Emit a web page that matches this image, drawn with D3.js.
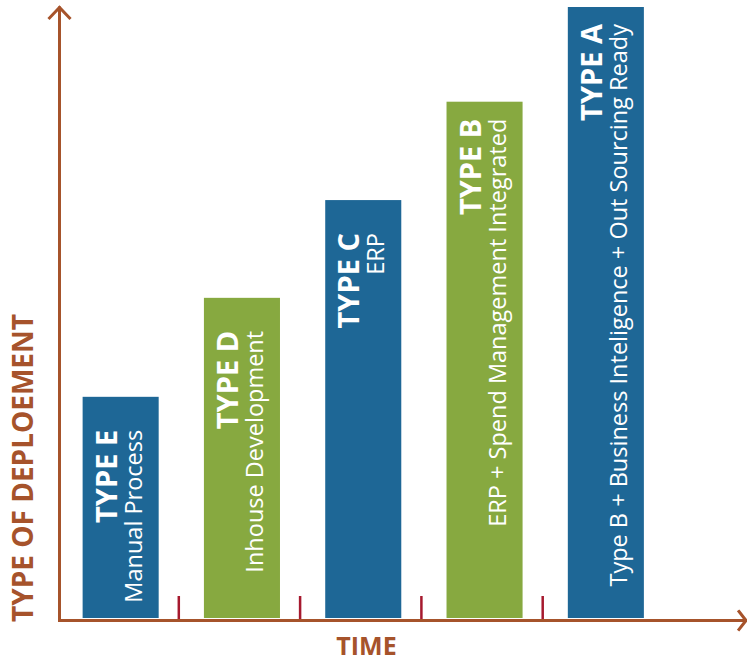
<!DOCTYPE html>
<html>
<head>
<meta charset="utf-8">
<script src="https://cdn.jsdelivr.net/npm/d3@7"></script>
<style>
  html, body { margin: 0; padding: 0; background: #ffffff; }
  svg { display: block; }
  text { font-family: "Open Sans", "Noto Sans", sans-serif; }
</style>
</head>
<body>
<svg id="chart" width="747" height="661"></svg>
<script>
// ---- data ----
const categories = ["TYPE E", "TYPE D", "TYPE C", "TYPE B", "TYPE A"];
const subtitles = [
  "Manual Process",
  "Inhouse Development",
  "ERP",
  "ERP + Spend Management Integrated",
  "Type B + Business Inteligence + Out Sourcing Ready"
];
const values = [36.2, 52.4, 68.4, 84.5, 100];
const barColors = ["#1e6796", "#87a940", "#1e6796", "#87a940", "#1e6796"];
const yAxisLabel = "TYPE OF DEPLOEMENT";
const xAxisLabel = "TIME";

// ---- layout ----
const W = 747, H = 661;
const axisX = 59.5, axisY = 620.5;
const plotTop = 7, barBase = 618;
const axisColor = "#a6532b";
const tickColor = "#a6192e";

const svg = d3.select("#chart");

const x = d3.scaleBand()
  .domain(categories)
  .range([60, 666.5])
  .paddingInner(0.373)
  .paddingOuter(0.1865);

const y = d3.scaleLinear()
  .domain([0, 100])
  .range([barBase, plotTop]);

const data = categories.map((c, i) => ({
  cat: c, sub: subtitles[i], value: values[i], color: barColors[i]
}));

// bars
svg.append("g").selectAll("rect")
  .data(data)
  .join("rect")
  .attr("x", d => x(d.cat))
  .attr("y", d => y(d.value))
  .attr("width", x.bandwidth())
  .attr("height", d => y(0) - y(d.value))
  .attr("fill", d => d.color);

// bar labels (rotated)
const labels = svg.append("g").selectAll("g")
  .data(data)
  .join("g")
  .attr("transform", d => {
    const cx = x(d.cat) + x.bandwidth() / 2;
    const off = d.sub.length > 30 ? 17 : 33;
    return `translate(${cx},${y(d.value) + off}) rotate(-90)`;
  });

labels.append("text")
  .attr("x", 0)
  .attr("y", -4)
  .attr("text-anchor", "end")
  .attr("fill", "#ffffff")
  .attr("font-size", 29)
  .attr("font-weight", 700)
  .text(d => d.cat);

labels.append("text")
  .attr("x", 0)
  .attr("y", 21)
  .attr("text-anchor", "end")
  .attr("fill", "#ffffff")
  .attr("font-size", 23.5)
  .attr("font-weight", 400)
  .text(d => d.sub);

// separator ticks between bars
const step = x.step();
const gap = step - x.bandwidth();
const tickXs = categories.slice(1).map(c => x(c) - gap / 2 - 2.5);
svg.append("g").selectAll("line")
  .data(tickXs)
  .join("line")
  .attr("x1", d => d).attr("x2", d => d)
  .attr("y1", 596).attr("y2", axisY)
  .attr("stroke", tickColor)
  .attr("stroke-width", 2.5);

// axes
const axes = svg.append("g")
  .attr("stroke", axisColor)
  .attr("stroke-width", 3)
  .attr("fill", "none")
  .attr("stroke-linecap", "square");

axes.append("line")
  .attr("x1", axisX).attr("y1", 8)
  .attr("x2", axisX).attr("y2", axisY);
axes.append("polyline")
  .attr("points", `${axisX - 10},${18} ${axisX},${7.5} ${axisX + 10},${18}`)
  .attr("stroke-linejoin", "miter");

axes.append("line")
  .attr("x1", axisX).attr("y1", axisY)
  .attr("x2", 745).attr("y2", axisY);
axes.append("polyline")
  .attr("points", `${739},${axisY - 9} ${746},${axisY} ${739},${axisY + 9}`);

// axis titles
svg.append("text")
  .attr("transform", `translate(33,622) rotate(-90)`)
  .attr("text-anchor", "start")
  .attr("fill", axisColor)
  .attr("font-size", 28)
  .attr("font-weight", 700)
  .text(yAxisLabel);

svg.append("text")
  .attr("x", 366.5)
  .attr("y", 655)
  .attr("text-anchor", "middle")
  .attr("fill", axisColor)
  .attr("font-size", 25)
  .attr("font-weight", 700)
  .text(xAxisLabel);
</script>
</body>
</html>
